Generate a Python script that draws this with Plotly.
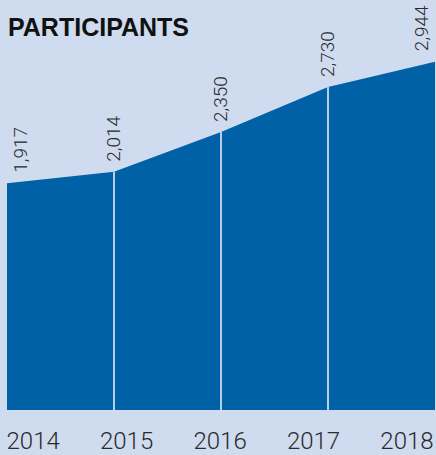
import plotly.graph_objects as go

# Yearly participant counts
years = [2014, 2015, 2016, 2017, 2018]
participants = [1917, 2014, 2350, 2730, 2944]
value_labels = ["1,917", "2,014", "2,350", "2,730", "2,944"]
year_labels = ["2014", "2015", "2016", "2017", "2018"]

BG = "#cfdbee"
FILL = "#0061a6"
DIVIDER = "#b9cde6"
TEXT = "#2a2a2a"
FONT = "Liberation Sans, Arial, Helvetica, sans-serif"
LIGHT = "Roboto, Liberation Sans, Arial, sans-serif"

fig = go.Figure()

# Filled area of participants
fig.add_trace(go.Scatter(
    x=years, y=participants, mode="lines", fill="tozeroy",
    fillcolor=FILL, line=dict(width=0, color=FILL), hoverinfo="skip",
    showlegend=False,
))

# Light dividers at inner years, from baseline up to the area edge
div_x, div_y = [], []
for yr, v in zip(years[1:-1], participants[1:-1]):
    div_x += [yr, yr, None]
    div_y += [0, v, None]
fig.add_trace(go.Scatter(
    x=div_x, y=div_y, mode="lines", line=dict(width=2, color=DIVIDER),
    hoverinfo="skip", showlegend=False,
))

# Evenly spread year labels on a companion axis
fig.add_trace(go.Scatter(
    x=year_labels, y=[None] * len(year_labels), xaxis="x2",
    mode="markers", showlegend=False, hoverinfo="skip",
))

# Rotated value labels above each point
n = len(years)
for i, (yr, v, lab) in enumerate(zip(years, participants, value_labels)):
    anchor = "left" if i == 0 else ("right" if i == n - 1 else "center")
    fig.add_annotation(
        x=yr, y=v, text=lab, textangle=-90, showarrow=False,
        xanchor=anchor, yanchor="bottom", yshift=8,
        font=dict(family=LIGHT, size=19, color=TEXT, weight=300),
    )

# Title
fig.add_annotation(
    x=0, y=1, xref="paper", yref="paper", text="<b>PARTICIPANTS</b>",
    showarrow=False, xanchor="left", yanchor="top", xshift=-1, yshift=-11,
    font=dict(family=FONT, size=25, color="#111111"),
)

fig.update_layout(
    width=436, height=455,
    margin=dict(l=7, r=1, t=0, b=43),
    paper_bgcolor=BG, plot_bgcolor=BG,
    xaxis=dict(range=[2014, 2018], showgrid=False, zeroline=False,
               showticklabels=False, fixedrange=True),
    xaxis2=dict(overlaying="x", side="bottom", type="category",
                range=[-0.28, 4.30], showgrid=False, zeroline=False,
                tickfont=dict(family=LIGHT, size=24, color=TEXT, weight=300),
                ticks="outside", ticklen=9, tickcolor=BG, anchor="y"),
    yaxis=dict(range=[0, 3465], showgrid=False, zeroline=False,
               showticklabels=False, fixedrange=True),
)

fig.write_html("out.html")
